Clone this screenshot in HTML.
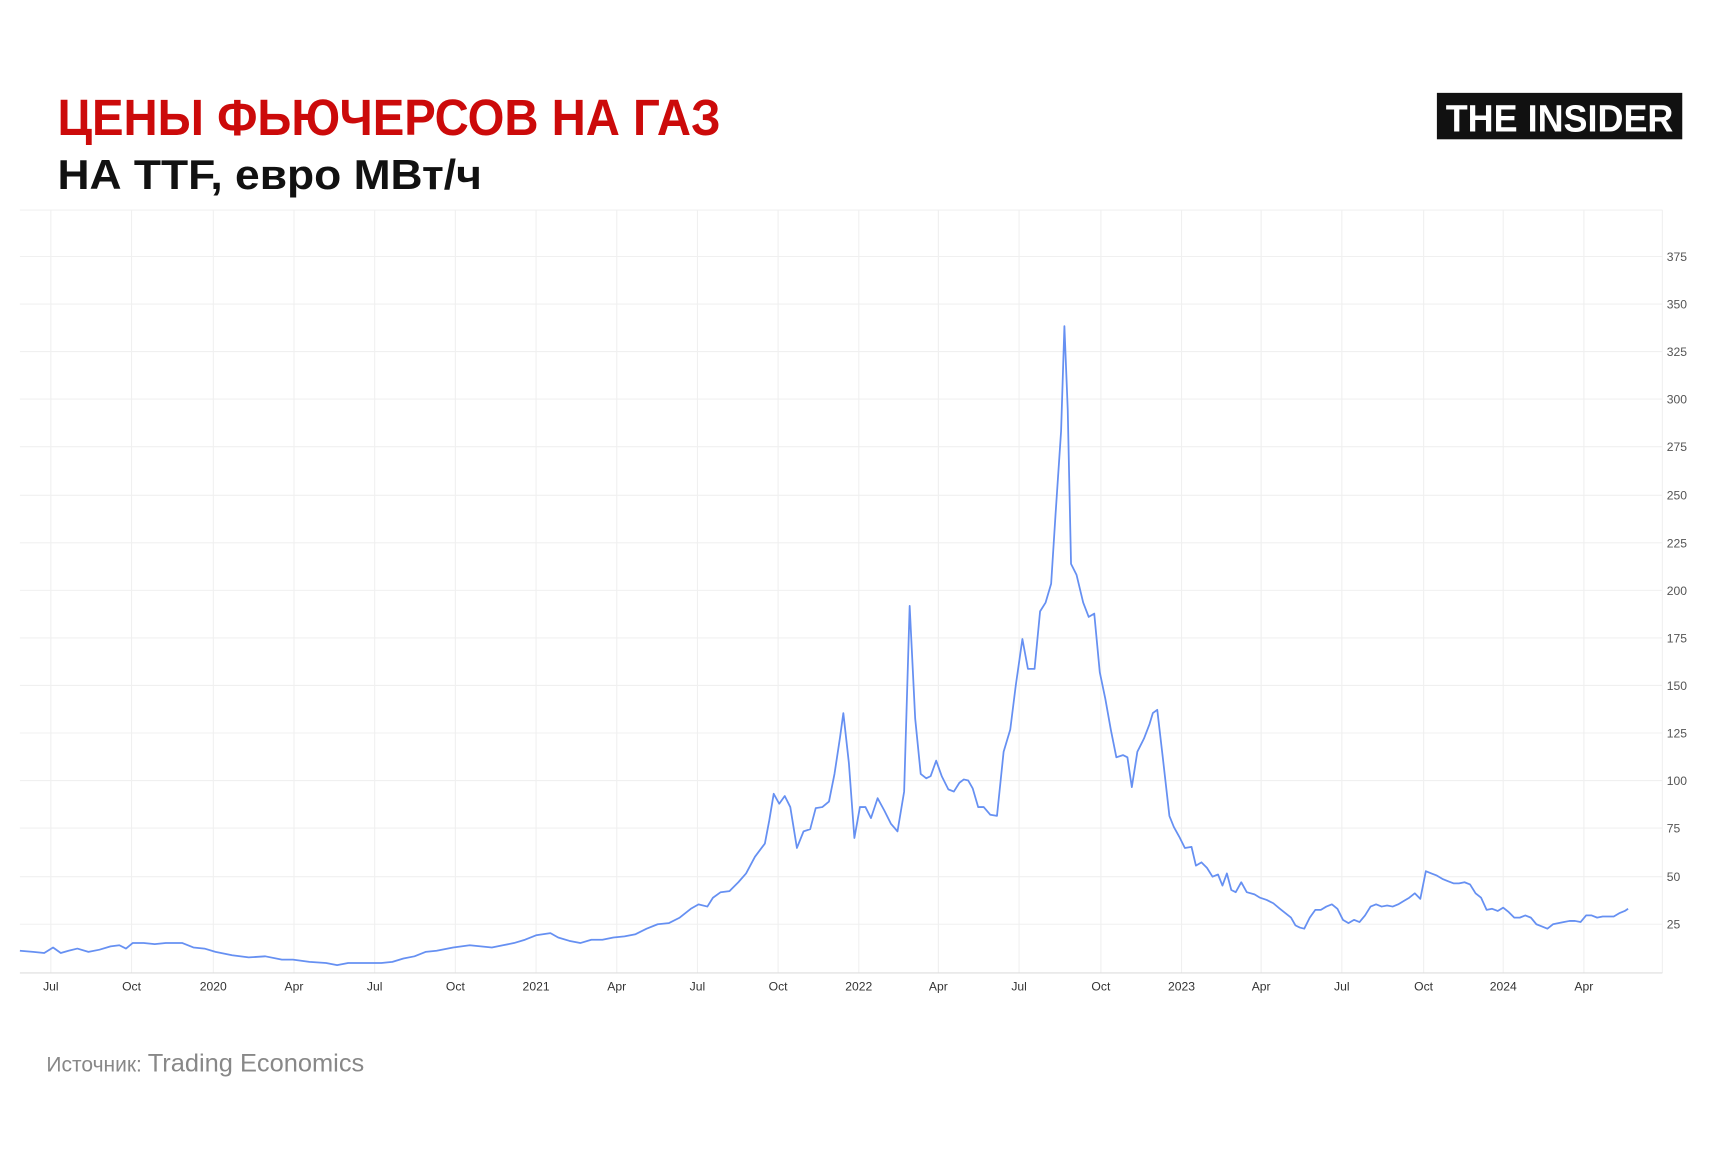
<!DOCTYPE html>
<html><head><meta charset="utf-8"><style>
html,body{margin:0;padding:0;background:#fff;width:1732px;height:1152px;overflow:hidden}
svg{display:block}
</style></head><body>
<svg width="1732" height="1152" viewBox="0 0 1567 1042" preserveAspectRatio="none" xmlns="http://www.w3.org/2000/svg">
<rect width="1567" height="1042" fill="#fff"/>
<text x="52" y="122" font-family="Liberation Sans, sans-serif" font-weight="bold" font-size="46" fill="#cc0a0a" textLength="600" lengthAdjust="spacingAndGlyphs">ЦЕНЫ ФЬЮЧЕРСОВ НА ГАЗ</text>
<text x="52" y="171" font-family="Liberation Sans, sans-serif" font-weight="bold" font-size="38" fill="#111" textLength="384" lengthAdjust="spacingAndGlyphs">НА TTF, евро МВт/ч</text>
<rect x="1300" y="84" width="222" height="42" fill="#111"/>
<text x="1411" y="119" text-anchor="middle" font-family="Liberation Sans, sans-serif" font-weight="bold" font-size="34" fill="#fff" textLength="206" lengthAdjust="spacingAndGlyphs">THE INSIDER</text>
<g stroke="#f0f0f0" stroke-width="1">
<line x1="18" y1="190" x2="1504" y2="190"/>
<line x1="18" y1="232" x2="1504" y2="232"/><line x1="18" y1="275" x2="1504" y2="275"/><line x1="18" y1="318" x2="1504" y2="318"/><line x1="18" y1="361" x2="1504" y2="361"/><line x1="18" y1="404" x2="1504" y2="404"/><line x1="18" y1="448" x2="1504" y2="448"/><line x1="18" y1="491" x2="1504" y2="491"/><line x1="18" y1="534" x2="1504" y2="534"/><line x1="18" y1="577" x2="1504" y2="577"/><line x1="18" y1="620" x2="1504" y2="620"/><line x1="18" y1="663" x2="1504" y2="663"/><line x1="18" y1="706" x2="1504" y2="706"/><line x1="18" y1="749" x2="1504" y2="749"/><line x1="18" y1="793" x2="1504" y2="793"/><line x1="18" y1="836" x2="1504" y2="836"/>
<line x1="46" y1="190" x2="46" y2="880"/><line x1="119" y1="190" x2="119" y2="880"/><line x1="193" y1="190" x2="193" y2="880"/><line x1="266" y1="190" x2="266" y2="880"/><line x1="339" y1="190" x2="339" y2="880"/><line x1="412" y1="190" x2="412" y2="880"/><line x1="485" y1="190" x2="485" y2="880"/><line x1="558" y1="190" x2="558" y2="880"/><line x1="631" y1="190" x2="631" y2="880"/><line x1="704" y1="190" x2="704" y2="880"/><line x1="777" y1="190" x2="777" y2="880"/><line x1="849" y1="190" x2="849" y2="880"/><line x1="922" y1="190" x2="922" y2="880"/><line x1="996" y1="190" x2="996" y2="880"/><line x1="1069" y1="190" x2="1069" y2="880"/><line x1="1141" y1="190" x2="1141" y2="880"/><line x1="1214" y1="190" x2="1214" y2="880"/><line x1="1288" y1="190" x2="1288" y2="880"/><line x1="1360" y1="190" x2="1360" y2="880"/><line x1="1433" y1="190" x2="1433" y2="880"/><line x1="1504" y1="190" x2="1504" y2="880"/>
</g>
<line x1="18" y1="880" x2="1504" y2="880" stroke="#ddd" stroke-width="1"/>
<g font-family="Liberation Sans, sans-serif" font-size="11" fill="#555">
<text x="1508" y="236">375</text><text x="1508" y="279">350</text><text x="1508" y="322">325</text><text x="1508" y="365">300</text><text x="1508" y="408">275</text><text x="1508" y="452">250</text><text x="1508" y="495">225</text><text x="1508" y="538">200</text><text x="1508" y="581">175</text><text x="1508" y="624">150</text><text x="1508" y="667">125</text><text x="1508" y="710">100</text><text x="1508" y="753">75</text><text x="1508" y="797">50</text><text x="1508" y="840">25</text>
</g>
<g font-family="Liberation Sans, sans-serif" font-size="11" fill="#333" text-anchor="middle">
<text x="46" y="896">Jul</text><text x="119" y="896">Oct</text><text x="193" y="896">2020</text><text x="266" y="896">Apr</text><text x="339" y="896">Jul</text><text x="412" y="896">Oct</text><text x="485" y="896">2021</text><text x="558" y="896">Apr</text><text x="631" y="896">Jul</text><text x="704" y="896">Oct</text><text x="777" y="896">2022</text><text x="849" y="896">Apr</text><text x="922" y="896">Jul</text><text x="996" y="896">Oct</text><text x="1069" y="896">2023</text><text x="1141" y="896">Apr</text><text x="1214" y="896">Jul</text><text x="1288" y="896">Oct</text><text x="1360" y="896">2024</text><text x="1433" y="896">Apr</text>
</g>
<polyline fill="none" stroke="#6690f2" stroke-width="1.6" stroke-linejoin="round" points="18,860 30,861 40,862 48,857 55,862 62,860 70,858 80,861 90,859 100,856 108,855 114,858 120,853 130,853 140,854 150,853 160,853 165,853 175,857 185,858 195,861 210,864 225,866 240,865 255,868 265,868 280,870 295,871 305,873 315,871 330,871 345,871 355,870 365,867 375,865 385,861 395,860 410,857 425,855 435,856 445,857 455,855 465,853 475,850 485,846 498,844 505,848 515,851 525,853 535,850 545,850 555,848 565,847 575,845 585,840 595,836 605,835 615,830 625,822 632,818 640,820 645,812 652,807 660,806 668,798 675,790 683,775 692,763 696,742 700,718 705,727 710,720 715,730 721,767 727,752 733,750 738,731 744,730 750,725 755,700 760,667 763,645 768,690 773,758 778,730 783,730 788,740 794,722 800,733 806,745 812,752 818,716 823,548 828,650 833,700 838,704 842,702 847,688 852,702 858,714 863,716 868,708 872,705 876,706 880,713 885,730 890,730 896,737 902,738 908,680 914,660 919,620 925,578 930,605 936,605 941,553 946,545 951,528 955,465 960,390 963,295 966,370 969,510 974,520 980,545 985,558 990,555 995,608 1000,632 1005,660 1010,685 1016,683 1020,685 1024,712 1029,680 1035,668 1040,655 1043,645 1047,642 1052,685 1058,738 1062,748 1067,757 1072,767 1078,766 1082,783 1087,780 1092,785 1097,793 1102,791 1106,801 1110,790 1114,805 1118,807 1123,798 1128,807 1135,809 1140,812 1146,814 1152,817 1158,822 1163,826 1168,830 1172,837 1176,839 1180,840 1185,830 1190,823 1195,823 1200,820 1205,818 1210,822 1215,832 1220,835 1225,832 1230,834 1235,828 1240,820 1245,818 1250,820 1255,819 1260,820 1265,818 1270,815 1275,812 1280,808 1285,813 1290,788 1295,790 1300,792 1305,795 1310,797 1315,799 1320,799 1325,798 1330,800 1335,808 1340,812 1345,823 1350,822 1355,824 1360,821 1365,825 1370,830 1375,830 1380,828 1385,830 1390,836 1395,838 1400,840 1405,836 1410,835 1415,834 1420,833 1425,833 1430,834 1435,828 1440,828 1445,830 1450,829 1455,829 1460,829 1465,826 1470,824 1473,822"/>
<text x="42" y="969" font-family="Liberation Sans, sans-serif" fill="#888"><tspan font-size="19">Источник: </tspan><tspan font-size="23">Trading Economics</tspan></text>
</svg>
</body></html>
